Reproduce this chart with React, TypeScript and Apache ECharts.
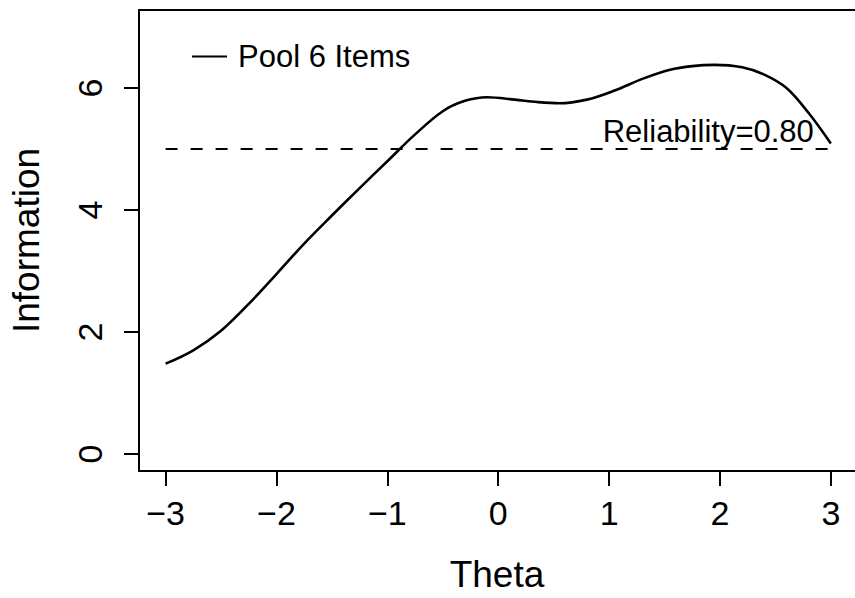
import React, { useEffect, useRef } from "react";
import * as echarts from "echarts";

const theta = [-3, -2.75, -2.5, -2.25, -2, -1.75, -1.5, -1.25, -1, -0.75, -0.5, -0.3, -0.1, 0.15, 0.35, 0.55, 0.8, 1.05, 1.3, 1.55, 1.75, 1.95, 2.2, 2.4, 2.6, 2.8, 3];
const information = [1.48, 1.7, 2.02, 2.46, 2.95, 3.45, 3.91, 4.36, 4.8, 5.24, 5.62, 5.79, 5.85, 5.81, 5.77, 5.75, 5.81, 5.96, 6.15, 6.3, 6.36, 6.38, 6.34, 6.22, 6.0, 5.59, 5.09];
const xTicks = [-3, -2, -1, 0, 1, 2, 3];
const yTicks = [0, 2, 4, 6];
const seriesName = "Pool 6 Items";
const thresholdValue = 5;
const thresholdRange = [-3, 3];
const reliabilityLabel = "Reliability=0.80";

const FONT = "'Liberation Sans', Arial, Helvetica, sans-serif";
const fmt = (v: number) => String(v).replace("-", "\u2212");
const frameLine = { show: true, onZero: false, lineStyle: { color: "#000", width: 2 } };
const X_MIN = -3.24;
const X_MAX = -3.24 + 722 / 111.8;

export default function App() {
  const ref = useRef<HTMLDivElement>(null);
  useEffect(() => {
    document.body.style.margin = "0";
    const chart = echarts.init(ref.current!, null, { renderer: "svg" });
    chart.setOption({
      animation: false,
      backgroundColor: "#fff",
      textStyle: { fontFamily: FONT, color: "#000" },
      grid: {
        left: 133,
        top: 10,
        right: 0,
        height: 466,
        show: false,
        containLabel: false,
      },
      legend: {
        data: [seriesName],
        left: 187,
        top: 36,
        icon: "rect",
        itemWidth: 35,
        itemHeight: 2,
        textStyle: { fontSize: 31, color: "#000", fontFamily: FONT, padding: [0, 0, 0, 6] },
        selectedMode: false,
      },
      xAxis: [
        {
          type: "value",
          position: "bottom",
          min: X_MIN,
          max: X_MAX,
          name: "Theta",
          nameLocation: "middle",
          nameGap: 85,
          nameTextStyle: { fontSize: 37, color: "#000", fontFamily: FONT },
          axisLine: frameLine,
          splitLine: { show: false },
          axisTick: {
            show: true,
            inside: false,
            length: 15,
            customValues: xTicks,
            lineStyle: { color: "#000", width: 2 },
          },
          axisLabel: {
            customValues: xTicks,
            formatter: (v: number) => fmt(v),
            fontSize: 34,
            color: "#000",
            fontFamily: FONT,
            margin: 25,
          },
        },
        {
          type: "value",
          position: "top",
          min: X_MIN,
          max: X_MAX,
          axisLine: frameLine,
          splitLine: { show: false },
          axisTick: { show: false },
          axisLabel: { show: false },
        },
      ],
      yAxis: {
        type: "value",
        min: -0.28,
        max: 7.28,
        name: "Information",
        nameLocation: "middle",
        nameGap: 94,
        nameRotate: 90,
        nameTextStyle: { fontSize: 37, color: "#000", fontFamily: FONT },
        axisLine: frameLine,
        splitLine: { show: false },
        axisTick: {
          show: true,
          inside: false,
          length: 15,
          customValues: yTicks,
          lineStyle: { color: "#000", width: 2 },
        },
        axisLabel: {
          customValues: yTicks,
          formatter: (v: number) => fmt(v),
          rotate: 90,
          fontSize: 34,
          color: "#000",
          fontFamily: FONT,
          margin: 32,
        },
      },
      series: [
        {
          name: seriesName,
          type: "line",
          xAxisIndex: 0,
          data: theta.map((t, i) => [t, information[i]]),
          smooth: 0.35,
          symbol: "none",
          lineStyle: { color: "#000", width: 2.6 },
          itemStyle: { color: "#000" },
          markLine: {
            silent: true,
            symbol: "none",
            lineStyle: { color: "#000", width: 2, type: [12, 13] },
            label: {
              show: true,
              position: "insideEndTop",
              formatter: reliabilityLabel,
              fontSize: 31,
              color: "#000",
              fontFamily: FONT,
              distance: [17, 2],
            },
            data: [
              [
                { coord: [thresholdRange[0], thresholdValue] },
                { coord: [thresholdRange[1], thresholdValue] },
              ],
            ],
          },
        },
      ],
    });
    return () => chart.dispose();
  }, []);
  return <div ref={ref} style={{ width: 855, height: 598 }} />;
}
